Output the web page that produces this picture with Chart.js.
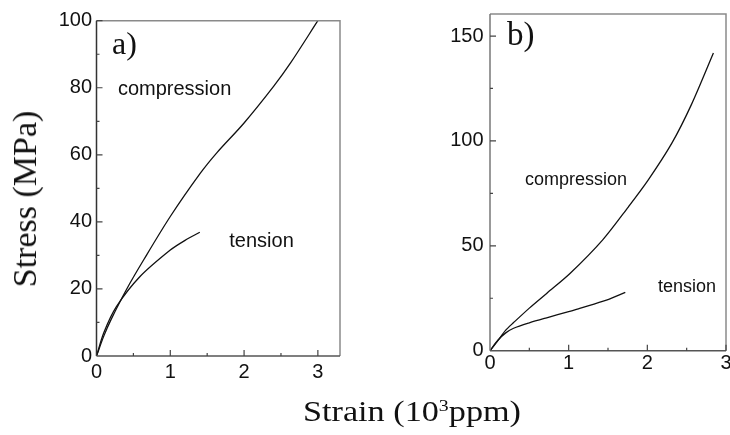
<!DOCTYPE html>
<html>
<head>
<meta charset="utf-8">
<script src="https://cdn.jsdelivr.net/npm/chart.js@4.4.1/dist/chart.umd.min.js"></script>
<style>
  html, body { margin: 0; padding: 0; background: #fff; }
  body { width: 730px; height: 435px; overflow: hidden; position: relative; }
  canvas { position: absolute; top: 0; }
  #chartA { left: 0; }
  #chartB { left: 365px; }
  .title { position: absolute; font-family: 'Liberation Serif', 'Times New Roman', serif; color: #111; line-height: 1; white-space: nowrap; }
  #ytitle { left: 25px; top: 198.5px; font-size: 34px; transform: translate(-50%, -50%) rotate(-90deg); }
  #xtitle { left: 412px; top: 396px; font-size: 30px; transform: translateX(-50%) scaleX(1.14); }
  #xtitle .sup { font-size: 0.58em; vertical-align: 0.55em; }
</style>
</head>
<body>
<canvas id="chartA" width="365" height="400"></canvas>
<canvas id="chartB" width="400" height="400"></canvas>
<div class="title" id="ytitle">Stress (MPa)</div>
<div class="title" id="xtitle">Strain (10<span class="sup">3</span>ppm)</div>
<script>
// panel a) strain (10^3 ppm) / stress (MPa)
const strainCompA = [0, 0.1, 0.2, 0.41, 0.64, 1.0, 1.41, 1.63, 2.0, 2.4, 2.63, 3.0];
const stressCompA = [0, 6, 11, 20, 28.7, 41.6, 54.6, 60.6, 69.5, 80.4, 87.4, 100];
const strainTensA = [0, 0.1, 0.27, 0.59, 1.0, 1.2, 1.4];
const stressTensA = [0, 7, 14.7, 23.7, 31.6, 34.5, 36.9];

// panel b)
const strainCompB = [0, 0.1, 0.2, 0.3, 0.5, 0.72, 1.02, 1.43, 1.76, 2.01, 2.31, 2.56, 2.84];
const stressCompB = [0, 4.8, 9.8, 13.4, 20.3, 27.3, 36.9, 52.7, 68.6, 81.3, 98.8, 117.3, 141.9];
const strainTensB = [0, 0.1, 0.2, 0.3, 0.5, 0.72, 1.0, 1.14, 1.48, 1.72];
const stressTensB = [0, 5, 8.5, 10.7, 13.3, 15.7, 18.6, 20.2, 24.1, 27.8];

const sansFont = 'Liberation Sans, Arial, sans-serif';
const serifFont = 'Liberation Serif, Times New Roman, serif';

function pts(xs, ys) {
  return xs.map((x, i) => ({ x: x, y: ys[i] }));
}

function curve(xs, ys) {
  return {
    data: pts(xs, ys),
    borderColor: '#111',
    borderWidth: 1.3,
    pointRadius: 0,
    tension: 0.3,
    fill: false
  };
}

// box frame + inward tick marks + annotations
const frameTicks = {
  id: 'frameTicks',
  afterDatasetsDraw(chart, args, o) {
    const { ctx, chartArea: a, scales: { x, y } } = chart;
    ctx.save();
    ctx.lineWidth = 1.5;
    ctx.strokeStyle = '#8a8a8a';
    ctx.beginPath();
    ctx.moveTo(a.left, a.top);
    ctx.lineTo(a.right, a.top);
    ctx.lineTo(a.right, a.bottom);
    ctx.stroke();
    ctx.strokeStyle = o.leftColor;
    ctx.beginPath();
    ctx.moveTo(a.left, a.top);
    ctx.lineTo(a.left, a.bottom);
    ctx.stroke();
    ctx.strokeStyle = '#555';
    ctx.beginPath();
    ctx.moveTo(a.left, a.bottom);
    ctx.lineTo(a.right, a.bottom);
    ctx.stroke();

    ctx.lineWidth = 1.2;
    ctx.strokeStyle = '#444';
    ctx.beginPath();
    for (let i = 1; i * o.xMinor <= x.max + 1e-9; i++) {
      const px = x.getPixelForValue(i * o.xMinor);
      const len = (i % o.xEvery === 0) ? 6 : 3;
      ctx.moveTo(px, a.bottom);
      ctx.lineTo(px, a.bottom - len);
    }
    for (let i = 1; i * o.yMinor <= y.max + 1e-9; i++) {
      const py = y.getPixelForValue(i * o.yMinor);
      const len = (i % o.yEvery === 0) ? 6 : 3;
      ctx.moveTo(a.left, py);
      ctx.lineTo(a.left + len, py);
    }
    ctx.stroke();

    ctx.fillStyle = '#111';
    ctx.textBaseline = 'alphabetic';
    ctx.textAlign = 'left';
    o.notes.forEach(n => {
      ctx.font = n.font;
      ctx.fillText(n.text, x.getPixelForValue(n.x), y.getPixelForValue(n.y));
    });
    ctx.restore();
  }
};

function makeChart(id, d, ax) {
  return new Chart(document.getElementById(id), {
    type: 'line',
    data: { datasets: d },
    plugins: [frameTicks],
    options: {
      responsive: false,
      animation: false,
      devicePixelRatio: 1,
      layout: { padding: { top: ax.top, right: ax.right, left: 0, bottom: 0 } },
      plugins: {
        legend: { display: false },
        tooltip: { enabled: false },
        frameTicks: ax.frame
      },
      scales: {
        x: {
          type: 'linear',
          min: 0,
          max: ax.xMax,
          grid: { display: false, drawTicks: false },
          border: { display: false },
          ticks: {
            stepSize: 1,
            includeBounds: false,
            padding: ax.xPad,
            color: '#111',
            font: { family: sansFont, size: 20 },
            maxRotation: 0
          },
          afterFit: s => { s.height = ax.xHeight; s.paddingLeft = 0; s.paddingRight = 0; }
        },
        y: {
          type: 'linear',
          min: 0,
          max: ax.yMax,
          grid: { display: false, drawTicks: false },
          border: { display: false },
          ticks: {
            stepSize: ax.yStep,
            includeBounds: false,
            padding: ax.yPad,
            color: '#111',
            font: { family: sansFont, size: 20 }
          },
          afterFit: s => { s.width = ax.yWidth; s.paddingTop = 0; s.paddingBottom = 0; }
        }
      }
    }
  });
}

makeChart('chartA', [curve(strainCompA, stressCompA), curve(strainTensA, stressTensA)], {
  top: 20.7, right: 25, xMax: 3.3, yMax: 100, yStep: 20,
  xHeight: 44, yWidth: 96.5, xPad: 4, yPad: 4.5,
  frame: {
    leftColor: '#333', xMinor: 0.5, xEvery: 2, yMinor: 10, yEvery: 2,
    notes: [
      { text: 'a)', x: 0.21, y: 90.1, font: '32px ' + serifFont },
      { text: 'compression', x: 0.29, y: 77.9, font: '20px ' + sansFont },
      { text: 'tension', x: 1.8, y: 32.6, font: '20px ' + sansFont }
    ]
  }
});

makeChart('chartB', [curve(strainCompB, stressCompB), curve(strainTensB, stressTensB)], {
  top: 14, right: 39, xMax: 3, yMax: 160.5, yStep: 50,
  xHeight: 49.3, yWidth: 125, xPad: 1, yPad: 6.5,
  frame: {
    leftColor: '#777', xMinor: 0.5, xEvery: 2, yMinor: 25, yEvery: 2,
    notes: [
      { text: 'b)', x: 0.216, y: 145.6, font: '33px ' + serifFont },
      { text: 'compression', x: 0.445, y: 79.2, font: '18px ' + sansFont },
      { text: 'tension', x: 2.135, y: 28.1, font: '18px ' + sansFont }
    ]
  }
});
</script>
</body>
</html>
